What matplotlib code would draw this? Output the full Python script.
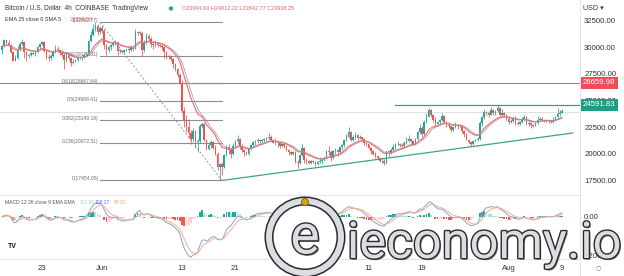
import numpy as np
import pandas as pd
import matplotlib
matplotlib.use('Agg')
import matplotlib.pyplot as plt
import matplotlib.patheffects as pe
from matplotlib import transforms as mtrans
from matplotlib.patches import Circle
from matplotlib import font_manager as fm

# ---------------- data ----------------
# 8-hour BTC/USD candles (prices in hundreds of USD), first candle 2022-05-17 00:00
first_day = -6.0            # days relative to 2022-05-23 00:00
candles_per_day = 3
chart_steps_per_candle = 2  # indicators are defined on the 4h chart
first_open = 298
closes = [
    301, 307, 304,  302, 296, 287,  290, 298, 303,  305, 296, 292,  293, 295, 294,
    296, 300, 303,  305, 297, 291,  290, 292, 296,  299, 298, 295,  293, 288, 292,
    290, 285, 286,  288, 290, 290,  291, 293, 295,  306, 312, 317,  320, 315, 318,
    316, 302, 298,  300, 302, 304,  305, 297, 297,  296, 298, 299,  298, 300, 299,
    315, 314, 314,  298, 305, 311,  308, 303, 302,  304, 302, 301,  300, 296, 291,
    292, 289, 284,  280, 274, 266,  240, 232, 225,  219, 214, 221,  211, 212, 226,
    228, 213, 204,  208, 211, 205,  200, 187, 190,  187, 199, 206,  203, 200, 207,
    212, 214, 207,  203, 201, 200,  204, 208, 211,  212, 213, 212,  213, 214, 215,
    216, 213, 210,  212, 210, 207,  209, 207, 203,  201, 200, 201,  192, 191, 199,
    205, 194, 193,  191, 193, 192,  190, 192, 193,  194, 196, 202,  201, 196, 202,
    203, 201, 206,  208, 213, 216,  220, 213, 216,  217, 215, 216,  214, 210, 209,
    205, 202, 200,  198, 196, 193,  193, 191, 202,  201, 203, 206,  209, 209, 208,
    207, 210, 212,  214, 212, 208,  214, 220, 224,  218, 230, 234,  241, 236, 232,
    228, 230, 232,  235, 230, 227,  226, 222, 225,  227, 226, 226,  221, 218, 213,
    211, 209, 212,  213, 214, 229,  234, 239, 238,  236, 241, 238,  240, 243, 236,
    238, 236, 233,  230, 231, 233,  229, 228, 230,  233, 234, 228,  229, 227, 226,
    229, 232, 233,  232, 231, 232,  231, 230, 232,  234, 237, 238,  240]
highs = [
    302, 308, 307,  307, 303, 297,  293, 301, 305,  308, 306, 297,  294, 296, 296,
    297, 301, 304,  306, 306, 298,  294, 294, 298,  302, 301, 299,  298, 294, 294,
    294, 291, 289,  289, 292, 292,  292, 295, 296,  307, 316, 322,  324, 322, 320,
    320, 317, 303,  301, 303, 306,  307, 306, 299,  298, 299, 299,  300, 302, 301,
    317, 316, 316,  316, 307, 314,  313, 310, 305,  307, 305, 303,  303, 301, 297,
    294, 293, 290,  285, 281, 276,  269, 244, 236,  233, 222, 224,  222, 214, 228,
    230, 229, 214,  210, 213, 212,  208, 201, 191,  192, 200, 208,  209, 205, 210,
    213, 217, 215,  209, 204, 202,  205, 209, 212,  213, 215, 214,  214, 215, 216,
    219, 217, 214,  215, 213, 211,  212, 210, 208,  204, 202, 202,  202, 194, 200,
    209, 206, 196,  194, 194, 194,  193, 193, 197,  195, 198, 203,  207, 203, 203,
    205, 204, 206,  209, 214, 218,  225, 221, 217,  220, 218, 217,  216, 215, 211,
    209, 206, 203,  201, 199, 197,  196, 195, 202,  203, 205, 209,  210, 212, 210,
    209, 212, 216,  217, 215, 213,  215, 221, 228,  226, 232, 238,  243, 242, 237,
    234, 231, 233,  238, 236, 231,  230, 227, 226,  230, 228, 228,  227, 222, 219,
    214, 212, 213,  214, 216, 231,  235, 242, 240,  240, 244, 242,  241, 246, 244,
    242, 239, 237,  235, 233, 234,  235, 231, 231,  234, 236, 235,  232, 230, 228,
    230, 235, 234,  234, 233, 233,  233, 232, 234,  235, 243, 241,  242]
lows = [
    294, 300, 303,  301, 295, 287,  287, 289, 297,  302, 290, 287,  290, 292, 293,
    292, 295, 299,  302, 296, 289,  287, 288, 291,  295, 296, 293,  291, 280, 286,
    288, 283, 284,  286, 287, 289,  288, 290, 292,  293, 305, 311,  316, 312, 313,
    314, 299, 293,  296, 298, 301,  302, 293, 295,  295, 295, 297,  295, 297, 297,
    299, 312, 312,  292, 296, 303,  306, 300, 299,  300, 300, 300,  298, 290, 289,
    289, 287, 281,  278, 272, 266,  238, 225, 220,  215, 209, 212,  205, 201, 210,
    224, 212, 203,  203, 205, 204,  199, 184, 175,  180, 186, 198,  200, 196, 199,
    205, 209, 204,  201, 198, 199,  199, 203, 207,  208, 210, 210,  210, 211, 212,
    213, 212, 210,  208, 206, 205,  206, 205, 202,  199, 199, 199,  191, 186, 190,
    198, 191, 190,  190, 190, 191,  188, 189, 191,  190, 193, 195,  199, 193, 195,
    200, 198, 200,  203, 206, 212,  215, 212, 212,  214, 213, 214,  212, 208, 207,
    204, 200, 199,  196, 195, 192,  191, 189, 190,  197, 200, 202,  204, 207, 206,
    205, 206, 209,  211, 210, 208,  208, 213, 218,  216, 217, 229,  234, 234, 230,
    224, 226, 229,  231, 229, 225,  224, 220, 221,  224, 223, 225,  219, 216, 213,
    209, 207, 208,  211, 212, 213,  226, 233, 236,  234, 236, 236,  236, 239, 235,
    234, 234, 232,  228, 229, 230,  227, 227, 227,  229, 231, 227,  226, 224, 225,
    226, 228, 231,  231, 230, 230,  229, 229, 229,  231, 233, 235,  238]

tick_days = [0, 9, 21, 29, 49, 57, 70, 78]
tick_names = ['23', 'Jun', '13', '21', '11', '19', 'Aug', '9']
price_ticks = [17500, 20000, 22500, 25000, 27500, 30000, 32500]
macd_ticks = [-2000, 0]

fib_names = ['0', '0.236', '0.382', '0.5', '0.618', '0.786', '1']
fib_prices = [17454.05, 20972.51, 23149.18, 24908.41, 26667.64, 29172.31, 32362.77]
fib_days = [8.7, 27.0]
trend_days = [27.0, 79.6]
trend_prices = [17454.05, 21934.0]
resist_day = 52.9
resist_price = 24591.83
hline_price = 26659.98
last_price = 23938.25

assert len(closes) == len(highs) == len(lows)

# ---------------- styling ----------------
UP = '#26a69a'
DN = '#ef5350'
TXT = '#333333'
SEP = '#e0e3eb'
FONT = 'Liberation Sans'
plt.rcParams['font.family'] = [FONT, 'DejaVu Sans']

W, H = 624, 276
fig = plt.figure(figsize=(W / 100, H / 100), dpi=100)
fig.patch.set_facecolor('white')

def px_rect(x0, y0, x1, y1):
    return [x0 / W, 1 - y1 / H, (x1 - x0) / W, (y1 - y0) / H]

ax = fig.add_axes(px_rect(0, 0, 580, 195))
mx = fig.add_axes(px_rect(0, 195, 580, 259), sharex=ax)

c = np.array(closes, float) * 100
h = np.array(highs, float) * 100
l = np.array(lows, float) * 100
o = np.concatenate([[first_open * 100.0], c[:-1]])
h = np.maximum(h, np.maximum(o, c))
l = np.minimum(l, np.minimum(o, c))
n = len(c)
days = first_day + np.arange(n) / candles_per_day
colors = np.where(c >= o, UP, DN)

# candles
ax.vlines(days, l, h, colors=colors, lw=0.55, zorder=3)
ax.bar(days, np.maximum(np.abs(c - o), 25), bottom=np.minimum(o, c), width=0.24,
       color=colors, linewidth=0, zorder=3)

def ema(x, length):
    # EMA of the given length on the 4h chart, sampled every 8h
    a = 1 - (1 - 2 / (length + 1)) ** chart_steps_per_candle
    out = np.empty_like(x)
    out[0] = x[0]
    for i in range(1, len(x)):
        out[i] = out[i - 1] + a * (x[i] - out[i - 1])
    return out

ema25 = ema(c, 25)
ema25_sma = pd.Series(ema25).rolling(3, min_periods=1).mean().values
ax.plot(days, ema25, color='#e07a7f', lw=0.9, zorder=4)
ax.plot(days, ema25_sma, color='#b58a8a', lw=0.5, zorder=4)

# horizontal full-width lines
ax.axhline(hline_price, color='#8a8d96', lw=0.8, zorder=2)
ax.axhline(last_price, color='#d9dbe0', lw=0.6, zorder=1)
ax.plot([resist_day, 80.7], [resist_price] * 2, color='#3f9c80', lw=0.9, zorder=2)
ax.plot(trend_days, trend_prices, color='#3fa37f', lw=0.9, zorder=2)

# fibonacci retracement
for nm, p in zip(fib_names, fib_prices):
    ax.plot(fib_days, [p, p], color='#8a8d96', lw=0.8, zorder=2)
    ax.annotate(f'{nm}({p:.2f})', xy=(fib_days[0], p), xytext=(-1, 1.2),
                textcoords='offset points', ha='right', va='center',
                fontsize=3.6, color='#6a6d78', zorder=5)
ax.plot(fib_days, [fib_prices[-1], fib_prices[0]], color='#9598a1', lw=0.7,
        ls=(0, (2, 2)), zorder=2)

ax.set_xlim(-6.3, 80.7)
ax.set_ylim(16085, 34481)
ax.yaxis.tick_right()
ax.set_yticks(price_ticks)
ax.set_yticklabels([f'{v:.2f}' for v in price_ticks])
ax.tick_params(axis='y', length=0, pad=3, labelsize=5.6, labelcolor=TXT)
ax.tick_params(axis='x', length=0, labelbottom=False)
for s in ax.spines.values():
    s.set_visible(False)

# right-side price labels
bt = mtrans.blended_transform_factory(ax.transAxes, ax.transData)
for val, fc in [(hline_price, '#ef4d5a'), (resist_price, '#1f9e86')]:
    ax.text(1 + 3 / 580, val, f'{val:.2f}', transform=bt, ha='left', va='center',
            fontsize=5.6, color='white', clip_on=False, zorder=10,
            bbox=dict(boxstyle='square,pad=0.28', fc=fc, ec='none'))

# MACD panel
m = ema(c, 12) - ema(c, 26)
sig = ema(m, 9)
hist = m - sig
dh = np.diff(np.concatenate([[0], hist]))
hcol = np.where(hist >= 0, np.where(dh >= 0, '#26a69a', '#b2dfdb'),
                np.where(dh <= 0, '#ff5252', '#ffcdd2'))
mx.bar(days, hist, width=0.26, color=hcol, linewidth=0, zorder=2)
mx.plot(days, m, color='#8fa0d4', lw=0.7, zorder=3)
mx.plot(days, sig, color='#efb08c', lw=0.7, zorder=3)
mx.set_ylim(-2154, 1128)
mx.yaxis.tick_right()
mx.set_yticks(macd_ticks)
mx.set_yticklabels(['\u22122000.00', '0.00'])
mx.tick_params(axis='y', length=0, pad=3, labelsize=5.6, labelcolor=TXT)
mx.set_xticks(tick_days)
mx.set_xticklabels(tick_names)
mx.tick_params(axis='x', length=0, pad=4.2, labelsize=5.6, labelcolor=TXT)
for s in mx.spines.values():
    s.set_visible(False)

# overlay in pixel coordinates
ov = fig.add_axes([0, 0, 1, 1])
ov.set_xlim(0, W)
ov.set_ylim(H, 0)
ov.axis('off')
ov.set_zorder(5)

ov.plot([580, 580], [0, H], color=SEP, lw=0.7)
ov.plot([0, 580], [195, 195], color=SEP, lw=0.7)
ov.plot([0, 580], [259, 259], color=SEP, lw=0.7)

ov.text(5, 8.5, 'Bitcoin / U.S. Dollar  4h  COINBASE  TradingView', fontsize=4.7,
        color=TXT, va='center', ha='left')
ov.add_patch(Circle((171, 8.5), 2.2, color='#26a69a', lw=0))
ov.text(182, 8.5, 'O23994.63 H24012.22 L23842.77 C23938.25', fontsize=4.0,
        color='#e0646b', va='center', ha='left')
ov.text(5, 19.5, 'EMA 25 close 0 SMA 5', fontsize=4.0, color=TXT, va='center', ha='left')
ov.text(70, 19.5, '23358.58', fontsize=4.0, color='#e0646b', va='center', ha='left')
ov.text(583, 8.5, 'USD \u25be', fontsize=5.2, color=TXT, va='center', ha='left')

ov.text(5, 202.5, 'MACD 12 26 close 9 EMA EMA', fontsize=3.6, color='#555555',
        va='center', ha='left')
ov.text(80, 202.5, '110.96', fontsize=3.6, color='#9fd6cf', va='center', ha='left')
ov.text(95, 202.5, '198.27', fontsize=3.6, color='#5b76d6', va='center', ha='left')
ov.text(114, 202.5, '87.31', fontsize=3.6, color='#f0a060', va='center', ha='left')
ov.text(8, 247, 'TV', fontsize=5, color='#131722', fontweight='bold', va='center', ha='left')
ov.text(598, 268, '\u25cb', fontsize=4.5, color='#777777', va='center', ha='center',
        family='DejaVu Sans')

# watermark
names = {f.name for f in fm.fontManager.ttflist}
wm_font = 'Liberation Sans Narrow' if 'Liberation Sans Narrow' in names else 'Roboto'
wm_fx = [pe.SimplePatchShadow(offset=(1.2, -1.2), shadow_rgbFace='#444444', alpha=0.7),
         pe.Stroke(linewidth=2.0, foreground='#2a2a2a'), pe.Normal()]
wm = ov.text(347, 258, 'ieconomy.io', fontsize=40, family=wm_font, color='#dcdde2',
             ha='left', va='baseline', path_effects=wm_fx, zorder=20)
fig.canvas.draw()
wbb = wm.get_window_extent()
wm.set_fontsize(40 * 274 / wbb.width)

ring_c = (305, 237)
ov.add_patch(Circle(ring_c, 36, fc='white', ec='#2a2a2a', lw=6.5, zorder=18))
ov.add_patch(Circle(ring_c, 36, fc='none', ec='#dcdde2', lw=4.3, zorder=19))
ov.text(ring_c[0], ring_c[1] + 1, 'e', fontsize=40, family=wm_font, color='#dcdde2',
        ha='center', va='center', path_effects=wm_fx, zorder=20)
ov.add_patch(Circle((305, 202), 3.5, fc='#d9a21b', ec='#6b4e00', lw=0.5, zorder=21))

fig.savefig('out.png', dpi=100, facecolor='white')
